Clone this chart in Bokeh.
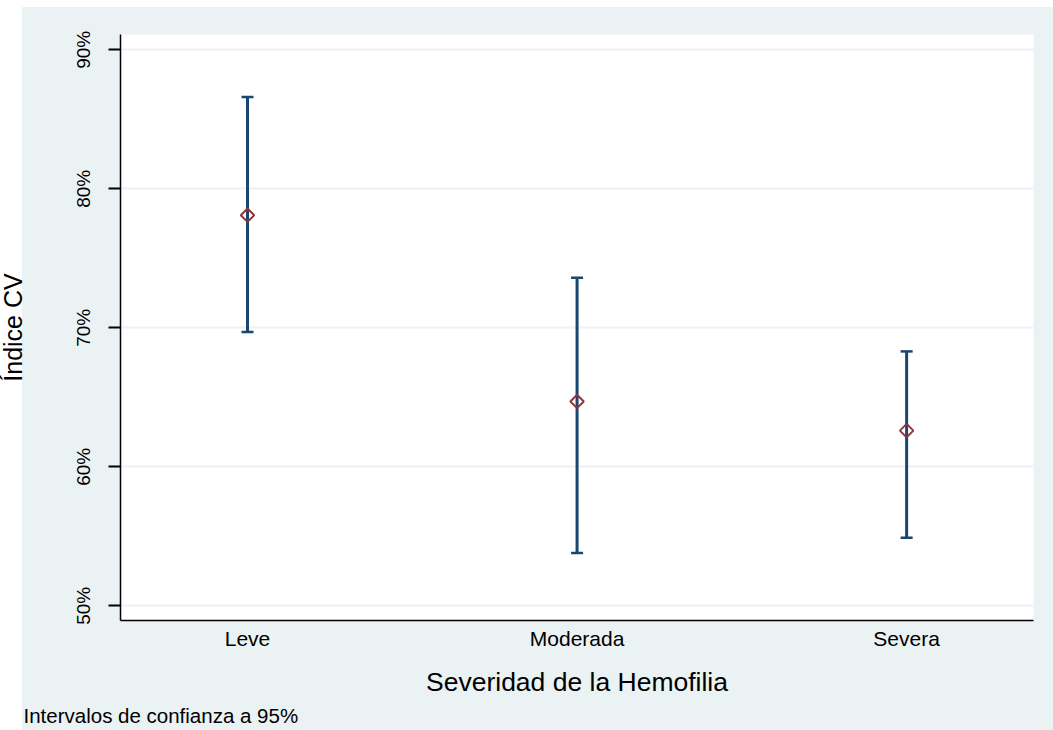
import math
from bokeh.plotting import figure
from bokeh.models import (ColumnDataSource, Whisker, TeeHead, FixedTicker, Range1d, Title)
from bokeh.embed import file_html
from bokeh.resources import INLINE

# ---- data ----
categories = ["Leve", "Moderada", "Severa"]
positions = [1, 2, 3]
means = [78.1, 64.7, 62.6]
upper_ci = [86.6, 73.6, 68.3]
lower_ci = [69.7, 53.8, 54.9]
y_ticks = [50, 60, 70, 80, 90]
y_tick_labels = ["50%", "60%", "70%", "80%", "90%"]

FONT = "Liberation Sans"
BG = "#EAF2F3"
NAVY = "#1A476F"
MAROON = "#90353B"

SHIFT = 20  # canvas starts 20px left of the page edge

y0, y1 = 48.94, 91.1
p = figure(width=1053 + SHIFT, height=730, output_backend="svg", toolbar_location=None,
           x_range=Range1d(0.6146, 3.385), y_range=Range1d(y0, y1),
           min_border_left=120 + SHIFT, min_border_right=20, min_border_top=34,
           min_border_bottom=110)

p.background_fill_color = "white"
p.border_fill_color = BG
p.border_fill_alpha = 0
p.outline_line_color = None
p.styles = {
    "margin-left": f"-{SHIFT}px",
    "background": (f"linear-gradient(white, white) 0 0 / {22 + SHIFT}px 100% no-repeat, "
                   "linear-gradient(white, white) 0 0 / 100% 7px no-repeat, " + BG),
}

# x axis
p.xaxis.ticker = FixedTicker(ticks=positions)
p.xaxis.major_label_overrides = {pos: c for pos, c in zip(positions, categories)}
p.xaxis.major_tick_out = 0
p.xaxis.major_tick_in = 0
p.xaxis.minor_tick_out = 0
p.xaxis.minor_tick_in = 0
p.xaxis.axis_line_color = "black"
p.xaxis.axis_line_width = 1.5
p.xaxis.major_label_text_font = FONT
p.xaxis.major_label_text_font_size = "21px"
p.xaxis.major_label_text_color = "black"
p.xaxis.major_label_standoff = 6
p.xaxis.axis_label = "Severidad de la Hemofilia"
p.xaxis.axis_label_text_font = FONT
p.xaxis.axis_label_text_font_size = "26.5px"
p.xaxis.axis_label_text_font_style = "normal"
p.xaxis.axis_label_text_color = "black"
p.xaxis.axis_label_standoff = 14
p.xgrid.visible = False

# y axis
p.yaxis.ticker = FixedTicker(ticks=y_ticks)
p.yaxis.major_label_overrides = {t: l for t, l in zip(y_ticks, y_tick_labels)}
p.yaxis.major_label_orientation = "vertical"
p.yaxis.major_tick_out = 12
p.yaxis.major_tick_in = 0
p.yaxis.minor_tick_out = 0
p.yaxis.minor_tick_in = 0
p.yaxis.major_tick_line_width = 2
p.yaxis.major_tick_line_color = "black"
p.yaxis.axis_line_color = "black"
p.yaxis.axis_line_width = 1.5
p.yaxis.major_label_text_font = FONT
p.yaxis.major_label_text_font_size = "19px"
p.yaxis.major_label_text_color = "black"
p.yaxis.major_label_standoff = 14
p.yaxis.axis_label = "Índice CV"
p.yaxis.axis_label_text_font = FONT
p.yaxis.axis_label_text_font_size = "25px"
p.yaxis.axis_label_text_font_style = "normal"
p.yaxis.axis_label_text_color = "black"
p.yaxis.axis_label_standoff = 44
p.ygrid.grid_line_color = BG
p.ygrid.grid_line_width = 2

src = ColumnDataSource(dict(x=positions, mean=means, upper=upper_ci, lower=lower_ci))

wh = Whisker(base="x", upper="upper", lower="lower", source=src, dimension="height",
             line_color=NAVY, line_width=3, level="glyph",
             upper_head=TeeHead(size=12, line_color=NAVY, line_width=2.5),
             lower_head=TeeHead(size=12, line_color=NAVY, line_width=2.5))
p.add_layout(wh)

r = p.scatter("x", "mean", source=src, marker="square", size=9.5, angle=math.pi / 4,
              fill_alpha=0, line_color=MAROON, line_width=2)
r.level = "annotation"

note = Title(text="Intervalos de confianza a 95%", align="left", offset=-97,
             text_font=FONT, text_font_size="20.5px", text_font_style="normal",
             text_color="black", standoff=4)
p.add_layout(note, "below")

open("out.html", "w").write(file_html(p, INLINE))
